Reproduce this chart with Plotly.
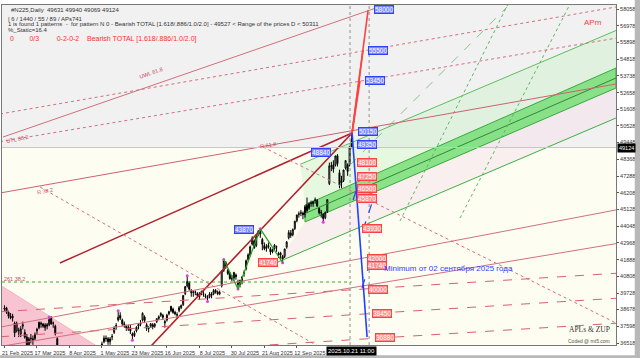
import plotly.graph_objects as go

# ---------------- data: daily bars (#N225 CFD, bar index 0 = 21 Feb 2025) ----------------
bar_open = [38700, 38780, 38500, 38240, 38140, 37800, 37300, 37300, 37100, 37600,
            37200, 36900, 36100, 36800, 36700, 36800, 37300, 37500, 37800, 37750,
            37500, 37700, 37700, 38100, 37800, 37600, 36800, 35700, 35600, 34800,
            34300, 32000, 32500, 32500, 34500, 33800, 33900, 34100, 34000, 33900,
            34600, 34300, 34600, 34900, 35400, 35800, 35840, 35900, 36100, 36600,
            36830, 36800, 36600, 36900, 37200, 37600, 38000, 38300, 38000, 37700,
            37600, 37400, 37500, 37100, 37000, 37300, 37600, 37800, 38000, 38200,
            37700, 37500, 37600, 37700, 37600, 37900, 38100, 38300, 38300, 37900,
            38000, 38400, 38600, 38700, 38500, 38300, 38600, 38800, 39000, 39700,
            40200, 40400, 39900, 39800, 39800, 39700, 39500, 39800, 39700, 39500,
            39400, 39500, 39600, 39700, 39900, 39800, 39700, 40200, 41200, 41700,
            41200, 41000, 40700, 40700, 40900, 40400, 40300, 40500, 41000, 41300,
            41900, 42200, 42900, 43100, 42800, 43500, 43700, 43200, 42800, 42700,
            42700, 42600, 42400, 42600, 42700, 42300, 42200, 42100, 42100, 42700,
            43300, 43600, 43500, 43900, 44400, 44800, 44900, 44900, 44800, 45400,
            45200, 45500, 45500, 45700, 45700, 45200, 44900, 44800, 44600, 45000,
            46800, 47900, 48000, 48000, 48600, 47500, 47000, 47000, 47800, 48000,
            48000, 49631]
bar_high = [38950, 38850, 38600, 38450, 38400, 37900, 37900, 37500, 37600, 37900,
            37400, 37100, 36900, 37100, 37000, 37200, 37500, 37900, 37900, 37800,
            37800, 37800, 38200, 38250, 37900, 37700, 36900, 35900, 35900, 35000,
            34500, 32500, 33300, 32800, 34900, 33900, 34200, 34400, 34100, 34400,
            34800, 34400, 35300, 35200, 35800, 35900, 36000, 36200, 36600, 37000,
            37000, 36900, 36900, 37100, 37600, 37800, 38600, 38500, 38100, 37900,
            37700, 37700, 37700, 37200, 37300, 37600, 37800, 38000, 38500, 38300,
            37800, 37600, 37800, 37800, 37800, 38100, 38300, 38500, 38400, 38000,
            38400, 38600, 38900, 38800, 38600, 38500, 38900, 39000, 39600, 40200,
            40850, 40500, 40000, 39900, 39900, 39800, 39800, 39900, 39900, 39700,
            39600, 39800, 39800, 40000, 40000, 39900, 39900, 41200, 41900, 41800,
            41300, 41100, 40900, 41100, 41000, 40600, 40600, 40800, 41200, 41900,
            42300, 42800, 43400, 43200, 43500, 43800, 43880, 43300, 43000, 42900,
            43000, 42700, 42600, 42900, 42800, 42400, 42400, 42200, 42600, 43100,
            43800, 43800, 43900, 44400, 44800, 45000, 45100, 45000, 45400, 45900,
            45600, 45700, 45700, 45900, 45800, 45300, 45100, 44900, 45000, 45800,
            48150, 48200, 48300, 48600, 48700, 47700, 47300, 47700, 48300, 48100,
            49200, 49940]
bar_low = [38600, 38400, 38100, 38050, 37900, 36900, 37200, 36900, 36900, 37400,
           36800, 36000, 35990, 36500, 36400, 36700, 37100, 37400, 37500, 37500,
           37300, 37400, 37600, 37700, 37500, 37000, 35500, 35400, 35400, 34100,
           33500, 30800, 32300, 31100, 34100, 33100, 33700, 33900, 33600, 33800,
           34200, 33900, 34500, 34700, 35300, 35600, 35700, 35800, 36000, 36500,
           36600, 36400, 36400, 36700, 37100, 37400, 37900, 38000, 37600, 37500,
           37300, 37300, 37100, 36700, 36900, 37200, 37400, 37600, 37900, 37800,
           37300, 37200, 37500, 37400, 37500, 37800, 38000, 38200, 38000, 37500,
           37900, 38300, 38500, 38400, 38300, 38100, 38500, 38700, 38900, 39600,
           40100, 39900, 39500, 39500, 39600, 39500, 39300, 39600, 39500, 39400,
           39200, 39400, 39400, 39600, 39700, 39600, 39600, 40100, 41100, 41300,
           40900, 40600, 40500, 40500, 40600, 40000, 40100, 40300, 40800, 41200,
           41800, 42100, 42800, 42600, 42700, 43400, 43300, 42500, 42500, 42400,
           42600, 42200, 42300, 42500, 42400, 42000, 41900, 41700, 42000, 42600,
           43200, 43300, 43400, 43800, 44300, 44600, 44700, 44500, 44600, 44900,
           45100, 45300, 45300, 45500, 45300, 44800, 44600, 44300, 44500, 44900,
           46700, 47600, 47500, 47900, 47900, 46500, 46500, 46900, 47700, 47300,
           47900, 49069]
bar_close = [38780, 38500, 38240, 38140, 38250, 37160, 37790, 37330, 37420, 37700,
             36890, 36030, 36790, 36820, 36790, 37050, 37400, 37850, 37750, 37600,
             37680, 37610, 38030, 37750, 37800, 37120, 35620, 35620, 35730, 34740,
             33780, 31140, 33010, 31710, 34610, 33590, 33980, 34270, 33920, 34380,
             34280, 34220, 34870, 35040, 35710, 35840, 35900, 36050, 36450, 36830,
             36800, 36600, 36780, 36930, 37500, 37640, 38180, 38130, 37760, 37750,
             37500, 37530, 37300, 36990, 37160, 37530, 37720, 37720, 38430, 37970,
             37470, 37450, 37750, 37550, 37740, 38090, 38210, 38420, 38170, 37830,
             38310, 38540, 38890, 38490, 38400, 38350, 38790, 38940, 39580, 40150,
             40490, 39990, 39760, 39790, 39810, 39590, 39690, 39820, 39650, 39570,
             39460, 39680, 39660, 39900, 39820, 39700, 39770, 41170, 41830, 41460,
             41000, 40670, 40650, 41070, 40800, 40290, 40550, 40790, 41060, 41820,
             42200, 42720, 43270, 42650, 43380, 43710, 43550, 42890, 42610, 42630,
             42810, 42390, 42520, 42830, 42720, 42190, 42310, 41940, 42580, 43020,
             43640, 43460, 43840, 44370, 44770, 44850, 44900, 44790, 45300, 45050,
             45490, 45550, 45630, 45750, 45350, 44910, 44930, 44550, 44940, 45770,
             47940, 47950, 47730, 48580, 48090, 46700, 46850, 47670, 48280, 47580,
             49180, 49124]

date_tick_bars = [0, 16, 32, 48, 64, 80, 96, 112, 128, 144]
date_tick_text = ["21 Feb 2025", "17 Mar 2025", "8 Apr 2025", "1 May 2025", "23 May 2025",
                  "16 Jun 2025", "8 Jul 2025", "30 Jul 2025", "21 Aug 2025", "12 Sep 2025"]
price_ticks = [36518, 37598, 38678, 39728, 40808, 41888, 42968, 44048, 45128, 46208, 47288,
               48368, 49448, 50528, 51608, 52658, 53738, 54818, 55898, 56978, 58058]
last_price = 49124

# zigzag extremes (bar index, 'H' or 'L')
zz_bars = [22, 56, 63, 90, 100, 108, 115, 126, 137, 157]
zz_kind = ['H', 'H', 'L', 'H', 'L', 'H', 'L', 'H', 'L', 'L']
green_zz_bars = [108, 115, 126, 137]
green_zz_kind = ['H', 'L', 'H', 'L']

# trend / fan lines: (start bar, start price, end bar, end price)
fan_x0 = {"up_main": 56.4, "up_left": 27.3, "uwl": -0.7, "dot_a": -2.2, "dot_b": -2.2,
          "r_solid": -2.2, "dot_down1": 127.3, "dot_down2": 17.5,
          "ld1": -2.2, "ld2": -2.2, "ld3": -2.2, "s1": -2.2, "s2": -2.2}
fan_p0 = {"up_main": 34132, "up_left": 41677, "uwl": 49803, "dot_a": 51287, "dot_b": 49500,
          "r_solid": 46192, "dot_down1": 49158, "dot_down2": 46579,
          "ld1": 38534, "ld2": 36922, "ld3": 35309, "s1": 37538, "s2": 36292}
fan_x1 = {"up_main": 171.2, "up_left": 171.2, "uwl": 192.9, "dot_a": 301.2, "dot_b": 301.2,
          "r_solid": 301.2, "dot_down1": 301.2, "dot_down2": 160.3,
          "ld1": 301.2, "ld2": 301.2, "ld3": 301.2, "s1": 301.2, "s2": 301.2}
fan_p1 = {"up_main": 50061, "up_left": 50061, "uwl": 58574, "dot_a": 58187, "dot_b": 56175,
          "r_solid": 53221, "dot_down1": 37808, "dot_down2": 35873,
          "ld1": 41013, "ld2": 39404, "ld3": 37792, "s1": 45098, "s2": 42928}

# green channel (bar, price) edges
band_x = [148.0, 301.2]
band_top = [45418, 54253]
band_mid = [44870, 53608]
band_bot = [44322, 52963]
gl_low_x = [134.7, 301.2]
gl_low_p = [41742, 51028]
gl_up_x = [145.6, 301.2]
gl_up_p = [48036, 56671]
gdash_x = [170.2, 247.5]
gdash_p = [48000, 58187]
gdot1_x = [194.8, 249.0]
gdot1_p = [44386, 58638]
gdot2_x = [224.4, 279.6]
gdot2_p = [44580, 58638]
support_level = 40452
tri_x = [-2.2, 64.1, -2.2]
tri_p = [40258, 34777, 34777]

# projections from the apex
apex_bar, apex_price = 171.2, 50061
red_proj_bar = [179.1, 176.6, 175.1]
red_proj_price = [57994, 55414, 53415]
blue_proj_bar = [178.6]
blue_proj_price = [36906]
blue_dash_x0 = [176.1, 176.6, 171.7]
blue_dash_p0 = [40065, 43806, 45740]
blue_dash_x1 = [180.0, 181.0, 174.1]
blue_dash_p1 = [41677, 45547, 46708]
vline_bars = [170.2, 179.6]

blue_lbl_bar = [182.0, 179.1, 177.6, 174.1, 173.6]
blue_lbl_price = [57994, 55414, 53415, 50126, 49352]
blue_lbl_text = ["58000", "55500", "53450", "50150", "49350"]
red_lbl_bar = [173.6, 173.6, 173.6, 173.6, 176.0, 178.6, 178.6, 179.1, 181.0, 182.5]
red_lbl_price = [48127, 47224, 46514, 45869, 43934, 42000, 41548, 40000, 38453, 36900]
red_lbl_text = ["48100", "47250", "46500", "45870", "43930", "42000", "41740", "40000", "38450", "36880"]
peak_lbl = ("43870", 113.0, 43870)
low_lbl = ("41740", 125.0, 41742)
oct_lbl = ("48840", 151.0, 48836)

X_RANGE = [-1.23, 301.2]
Y_RANGE = [36389, 58316]


def poly_path(xs, ys):
    pts = " L ".join(f"{x},{y}" for x, y in zip(xs, ys))
    return "M " + pts + " Z"


fig = go.Figure()
shapes = []
# backgrounds
shapes.append(dict(type="rect", xref="x", yref="y", x0=X_RANGE[0], x1=X_RANGE[1], y0=last_price,
                   y1=Y_RANGE[1], fillcolor="#f1f1f1", line_width=0, layer="below"))
shapes.append(dict(type="rect", xref="x", yref="y", x0=X_RANGE[0], x1=X_RANGE[1], y0=Y_RANGE[0],
                   y1=last_price, fillcolor="#fdfdf2", line_width=0, layer="below"))
# light fills around channel
shapes.append(dict(type="path", xref="x", yref="y", layer="below", line_width=0,
                   fillcolor="rgba(205,242,205,0.45)",
                   path=poly_path([gl_up_x[0], gl_up_x[1], band_x[1], band_x[0]],
                                  [gl_up_p[0], gl_up_p[1], band_top[1], band_top[0]])))
shapes.append(dict(type="path", xref="x", yref="y", layer="below", line_width=0,
                   fillcolor="rgba(245,222,232,0.45)",
                   path=poly_path([band_x[0], band_x[1], gl_low_x[1], gl_low_x[0]],
                                  [band_bot[0], band_bot[1], gl_low_p[1], gl_low_p[0]])))
# pink triangle
shapes.append(dict(type="path", xref="x", yref="y", layer="below", fillcolor="#f9c4d2",
                   line=dict(color="#f6b0c2", width=1), path=poly_path(tri_x, tri_p)))
# green band
shapes.append(dict(type="path", xref="x", yref="y", layer="below", fillcolor="rgba(110,220,110,0.8)",
                   line=dict(color="#3aa83a", width=1),
                   path=poly_path(band_x + band_x[::-1], band_top + band_bot[::-1])))

fig.add_trace(go.Scatter(x=band_x, y=band_mid, mode="lines", line=dict(color="#2e8b2e", width=1)))
fig.add_trace(go.Scatter(x=gl_low_x, y=gl_low_p, mode="lines", line=dict(color="#3cb043", width=1)))
fig.add_trace(go.Scatter(x=gl_up_x, y=gl_up_p, mode="lines", line=dict(color="#5cc05c", width=1)))
fig.add_trace(go.Scatter(x=gdash_x, y=gdash_p, mode="lines", line=dict(color="#8fbf8f", width=1, dash="dash")))
for gx, gp in ((gdot1_x, gdot1_p), (gdot2_x, gdot2_p)):
    fig.add_trace(go.Scatter(x=gx, y=gp, mode="lines", line=dict(color="#5cb85c", width=1, dash="dot")))
fig.add_trace(go.Scatter(x=[X_RANGE[0], 171], y=[support_level, support_level], mode="lines",
                         line=dict(color="#33aa33", width=1, dash="dot")))

# fan / trend lines
styles = {
    "up_main": ("#b0202a", 1.6, "solid"), "up_left": ("#b0202a", 1.4, "solid"),
    "uwl": ("#d0707a", 1, "solid"), "dot_a": ("#d07080", 1, "dot"), "dot_b": ("#d07080", 1, "dot"),
    "r_solid": ("#d06070", 1, "solid"), "dot_down1": ("#d07080", 1, "dot"),
    "dot_down2": ("#d07080", 1, "dot"), "ld1": ("#d86070", 1, "dash"), "ld2": ("#d86070", 1, "dash"),
    "ld3": ("#d86070", 1, "dash"), "s1": ("#d07080", 1, "solid"), "s2": ("#d07080", 1, "solid"),
}
for k, (c, w, d) in styles.items():
    fig.add_trace(go.Scatter(x=[fan_x0[k], fan_x1[k]], y=[fan_p0[k], fan_p1[k]], mode="lines",
                             line=dict(color=c, width=w, dash=d)))

# current price line
fig.add_trace(go.Scatter(x=X_RANGE, y=[last_price, last_price], mode="lines",
                         line=dict(color="#c8c8c8", width=1)))

# vertical dotted lines
for vb in vline_bars:
    fig.add_trace(go.Scatter(x=[vb, vb], y=Y_RANGE, mode="lines",
                             line=dict(color="#909090", width=1, dash="dot")))

# candles
fig.add_trace(go.Candlestick(x=list(range(len(bar_close))), open=bar_open, high=bar_high,
                             low=bar_low, close=bar_close,
                             increasing=dict(line=dict(color="#000000", width=1), fillcolor="#ffffff"),
                             decreasing=dict(line=dict(color="#000000", width=1), fillcolor="#000000"),
                             whiskerwidth=0, hoverinfo="skip"))

# zigzag markers
zz_y = [bar_high[b] if k == 'H' else bar_low[b] for b, k in zip(zz_bars, zz_kind)]
fig.add_trace(go.Scatter(x=zz_bars, y=zz_y, mode="markers",
                         marker=dict(color="#e040e0", size=3)))
gz_y = [bar_high[b] if k == 'H' else bar_low[b] for b, k in zip(green_zz_bars, green_zz_kind)]
fig.add_trace(go.Scatter(x=green_zz_bars, y=gz_y, mode="lines", line=dict(color="#22a022", width=1.2)))

# projection lines
for rb, rp in zip(red_proj_bar, red_proj_price):
    fig.add_trace(go.Scatter(x=[apex_bar, rb], y=[apex_price, rp], mode="lines",
                             line=dict(color="#ff4040", width=1.6)))
for bb, bp in zip(blue_proj_bar, blue_proj_price):
    fig.add_trace(go.Scatter(x=[apex_bar, bb], y=[apex_price, bp], mode="lines",
                             line=dict(color="#2040ff", width=1.6)))
for a, b, c, d in zip(blue_dash_x0, blue_dash_p0, blue_dash_x1, blue_dash_p1):
    fig.add_trace(go.Scatter(x=[a, c], y=[b, d], mode="lines",
                             line=dict(color="#2040ff", width=1.2, dash="dash")))

# labels
ann = []
def box(text, xb, yp, bg, border):
    ann.append(dict(x=xb, y=yp, xref="x", yref="y", text=text, showarrow=False, xanchor="left",
                    yanchor="middle", bgcolor=bg, bordercolor=border, borderwidth=1, borderpad=0,
                    font=dict(family="Liberation Sans", size=6.5, color="white")))
for t, xb, yp in zip(blue_lbl_text, blue_lbl_bar, blue_lbl_price):
    box(t, xb, yp, "#7c86ff", "#3040ff")
for t, xb, yp in zip(red_lbl_text, red_lbl_bar, red_lbl_price):
    box(t, xb, yp, "#ff8c8c", "#ff4040")
box(peak_lbl[0], peak_lbl[1], peak_lbl[2], "#7c86ff", "#3040ff")
box(low_lbl[0], low_lbl[1], low_lbl[2], "#ff8c8c", "#ff4040")
box(oct_lbl[0], oct_lbl[1], oct_lbl[2], "#7c86ff", "#3040ff")

small = dict(family="Liberation Sans", size=6, color="#333333")
fib_font = dict(family="Liberation Sans", size=5.5, color="#c05060")
ann += [
    dict(x=0.012, y=1.0, xref="paper", yref="paper", xanchor="left", yanchor="top", showarrow=False,
         text="#N225,Daily  49631 49940 49069 49124", font=small),
    dict(x=0.006, y=0.975, xref="paper", yref="paper", xanchor="left", yanchor="top", showarrow=False,
         text="| 6 / 1440 / 55 / 89 / APs741", font=small),
    dict(x=0.006, y=0.958, xref="paper", yref="paper", xanchor="left", yanchor="top", showarrow=False,
         text="1 is found 1 patterns  -  for pattern N 0 - Bearish TOTAL [1.618/.886/1.0/2.0] - 49527 < Range of the prices D < 50311",
         font=small),
    dict(x=0.006, y=0.941, xref="paper", yref="paper", xanchor="left", yanchor="top", showarrow=False,
         text="%_Static=16.4", font=small),
    dict(x=0.010, y=0.918, xref="paper", yref="paper", xanchor="left", yanchor="top", showarrow=False,
         text="0&nbsp;&nbsp;&nbsp;&nbsp;&nbsp;&nbsp;&nbsp;&nbsp;0/3&nbsp;&nbsp;&nbsp;&nbsp;&nbsp;&nbsp;&nbsp;&nbsp;&nbsp;0-2-0-2&nbsp;&nbsp;&nbsp;&nbsp;Bearish TOTAL [1.618/.886/1.0/2.0]",
         font=dict(family="Liberation Sans", size=7, color="#ff3030")),
    dict(x=0.963, y=0.95, xref="paper", yref="paper", xanchor="center", yanchor="middle", showarrow=False,
         text="APm", font=dict(family="Liberation Sans", size=8, color="#ff4040")),
    dict(x=186, y=41300, xref="x", yref="y", xanchor="left", yanchor="middle", showarrow=False,
         text="Minimum от 02 сентября 2025 года", font=dict(family="Liberation Sans", size=8, color="#3040ff")),
    dict(x=0.9935, y=0.046, xref="paper", yref="paper", xanchor="right", yanchor="middle", showarrow=False,
         text="APLs &amp; ZUP", font=dict(family="Liberation Serif", size=7.5, color="#333333")),
    dict(x=0.9935, y=0.013, xref="paper", yref="paper", xanchor="right", yanchor="middle", showarrow=False,
         text="Coded @ mt5.com", font=dict(family="Liberation Sans", size=5, color="#555555")),
    dict(x=1.0, y=last_price, xref="paper", yref="y", xanchor="left", yanchor="middle", showarrow=False,
         xshift=1, text="49124", bgcolor="#000000", font=dict(family="Liberation Sans", size=5.5, color="white")),
    dict(x=171, y=0, xref="x", yref="paper", xanchor="center", yanchor="top", showarrow=False, yshift=-1,
         text="2025.10.21 11:00", bgcolor="#000000", font=dict(family="Liberation Sans", size=6, color="white")),
    dict(x=72, y=53900, xref="x", yref="y", showarrow=False, textangle=-19, text="UWL 61.8", font=fib_font),
    dict(x=6, y=49700, xref="x", yref="y", showarrow=False, textangle=-12, text="UTL 38.2", font=fib_font),
    dict(x=20, y=46300, xref="x", yref="y", showarrow=False, textangle=-10, text="R 38.2", font=fib_font),
    dict(x=130, y=49300, xref="x", yref="y", showarrow=False, textangle=-10, text="R 61.8", font=fib_font),
    dict(x=5, y=40452, xref="x", yref="y", showarrow=False, yshift=3, text="261 38.2", font=fib_font),
]

# window frame strips
shapes.append(dict(type="rect", xref="paper", yref="paper", x0=1.0305, x1=1.04, y0=-0.04, y1=1.02,
                   fillcolor="#b8b8b8", line_width=0))
shapes.append(dict(type="rect", xref="paper", yref="paper", x0=-0.01, x1=1.04, y0=-0.04, y1=-0.0300,
                   fillcolor="#b8b8b8", line_width=0))

fig.update_layout(
    width=640, height=358, margin=dict(l=2, r=24, t=5, b=13, autoexpand=False),
    paper_bgcolor="#ffffff", plot_bgcolor="#fdfdf2", showlegend=False,
    annotations=ann, shapes=shapes,
    xaxis=dict(range=X_RANGE, tickvals=date_tick_bars, ticktext=date_tick_text, showgrid=False,
               zeroline=False, ticks="outside", ticklen=2, tickcolor="#555555", rangeslider=dict(visible=False),
               tickfont=dict(family="Liberation Sans", size=5.5, color="#333333"), ticklabelshift=13,
               ticklabelstandoff=0, tickangle=0, automargin=False,
               showline=True, linecolor="#777777", mirror=True),
    yaxis=dict(range=Y_RANGE, side="right", tickvals=price_ticks, ticktext=[str(v) for v in price_ticks],
               showgrid=False, zeroline=False, ticks="outside", ticklen=2, tickcolor="#555555",
               tickfont=dict(family="Liberation Sans", size=5.5, color="#333333"), automargin=False,
               showline=True, linecolor="#777777", mirror=True),
)

fig.write_html("out.html")
